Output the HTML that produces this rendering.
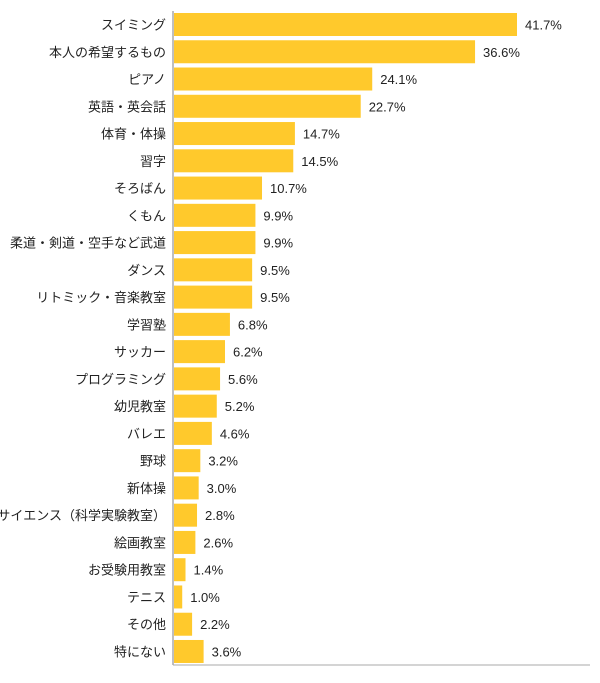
<!DOCTYPE html>
<html><head><meta charset="utf-8"><style>
body{margin:0;background:#fff;width:600px;height:678px;overflow:hidden}
svg text{font-family:"Liberation Sans","Noto Sans CJK JP",sans-serif;font-size:13px;fill:#222}
</style></head><body>
<svg id="chart" width="600" height="678" xmlns="http://www.w3.org/2000/svg"></svg>
<script>
const categories=["スイミング","本人の希望するもの","ピアノ","英語・英会話","体育・体操","習字","そろばん","くもん","柔道・剣道・空手など武道","ダンス","リトミック・音楽教室","学習塾","サッカー","プログラミング","幼児教室","バレエ","野球","新体操","サイエンス（科学実験教室）","絵画教室","お受験用教室","テニス","その他","特にない"];
const values=[41.7,36.6,24.1,22.7,14.7,14.5,10.7,9.9,9.9,9.5,9.5,6.8,6.2,5.6,5.2,4.6,3.2,3.0,2.8,2.6,1.4,1.0,2.2,3.6];
const valueLabels=["41.7%","36.6%","24.1%","22.7%","14.7%","14.5%","10.7%","9.9%","9.9%","9.5%","9.5%","6.8%","6.2%","5.6%","5.2%","4.6%","3.2%","3.0%","2.8%","2.6%","1.4%","1.0%","2.2%","3.6%"];
const svg=document.getElementById('chart');
const NS='http://www.w3.org/2000/svg';
const x0=174,scale=(517-174)/41.7;
const xs=v=>x0+v*scale;
const y0=13,pitch=27.26,bh=23;
const ys=i=>y0+i*pitch;
function mk(t,a){const e=document.createElementNS(NS,t);for(const k in a)e.setAttribute(k,a[k]);svg.appendChild(e);return e;}
categories.forEach((c,i)=>{
  const r=mk('rect',{x:x0,y:ys(i),width:xs(values[i])-x0,height:bh,fill:'#FFC92C'});
  
  
  const t=mk('text',{x:166,y:ys(i)+bh/2+5,'text-anchor':'end'});
  t.textContent=c;
  
  
  const v=mk('text',{x:xs(values[i])+8,y:ys(i)+bh/2+5});
  v.textContent=valueLabels[i];
  
  
});
const ax=mk('line',{x1:173,y1:11,x2:173,y2:665,stroke:'#aaa','stroke-width':1.5});


const bx=mk('line',{x1:173,y1:665,x2:590,y2:665,stroke:'#aaa','stroke-width':1});


</script>
</body></html>
